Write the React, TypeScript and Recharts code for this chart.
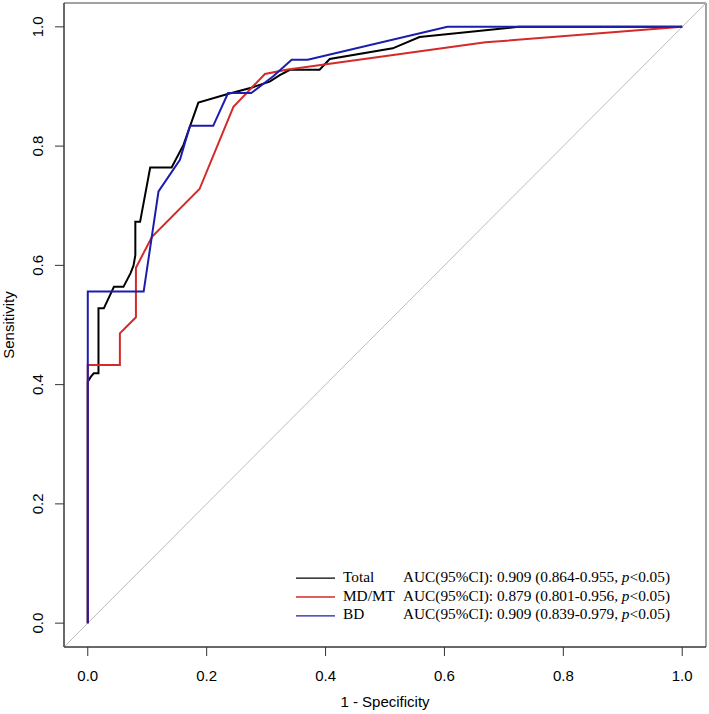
import { Line, LineChart, ReferenceArea, ReferenceLine, XAxis, YAxis } from "recharts";

// ROC points (x = 1 - specificity, y = sensitivity)
const totalFpr = [0, 0, 0.005, 0.01, 0.018, 0.018, 0.027, 0.044, 0.06, 0.072, 0.077, 0.08, 0.08, 0.088, 0.105, 0.141, 0.161, 0.186, 0.234, 0.275, 0.306, 0.323, 0.34, 0.39, 0.407, 0.513, 0.558, 0.725, 1];
const totalTpr = [0, 0.405, 0.413, 0.419, 0.419, 0.528, 0.528, 0.564, 0.564, 0.587, 0.6, 0.617, 0.673, 0.673, 0.764, 0.764, 0.802, 0.873, 0.887, 0.898, 0.908, 0.919, 0.928, 0.928, 0.946, 0.964, 0.983, 1, 1];

const mdmtFpr = [0, 0, 0.054, 0.054, 0.081, 0.081, 0.108, 0.188, 0.245, 0.298, 0.334, 0.669, 1];
const mdmtTpr = [0, 0.433, 0.433, 0.486, 0.513, 0.596, 0.648, 0.728, 0.866, 0.921, 0.928, 0.974, 1];

const bdFpr = [0, 0, 0.094, 0.119, 0.155, 0.172, 0.211, 0.236, 0.275, 0.312, 0.343, 0.37, 0.605, 1];
const bdTpr = [0, 0.556, 0.556, 0.724, 0.777, 0.834, 0.834, 0.889, 0.889, 0.917, 0.945, 0.945, 1, 1];

const axisTicks = [0, 0.2, 0.4, 0.6, 0.8, 1];

const seriesNames = ["Total", "MD/MT", "BD"];
const seriesColors = ["#000000", "#d42a2a", "#1c1cad"];
const aucValues = ["0.909", "0.879", "0.909"];
const aucRanges = ["0.864-0.955", "0.801-0.956", "0.839-0.979"];

const toPoints = (xs: number[], ys: number[]) => xs.map((x, i) => ({ x, y: ys[i] }));
const seriesData = [toPoints(totalFpr, totalTpr), toPoints(mdmtFpr, mdmtTpr), toPoints(bdFpr, bdTpr)];

const sans = "'Liberation Sans', Arial, sans-serif";
const serif = "'Liberation Serif', 'Times New Roman', serif";
const fmt = (v: number) => v.toFixed(1);

function YTick(props: any) {
  const { x, y, payload } = props;
  return (
    <text x={x} y={y} transform={`rotate(-90, ${x}, ${y})`} textAnchor="middle" fontFamily={sans} fontSize={15} fill="#000">
      {fmt(payload.value)}
    </text>
  );
}

export default function App() {
  return (
    <div style={{ position: "absolute", left: 0, top: 0, width: 709, height: 714, background: "#fff" }}>
      <LineChart width={709} height={714} margin={{ top: 3, right: 3, bottom: 0, left: 0 }}>
        <XAxis
          type="number"
          dataKey="x"
          domain={[-0.04, 1.04]}
          ticks={axisTicks}
          tickFormatter={fmt}
          allowDataOverflow
          height={67}
          tickSize={9}
          tickMargin={14}
          stroke="#333"
          tick={{ fill: "#000", fontFamily: sans, fontSize: 15 }}
        />
        <YAxis
          type="number"
          dataKey="y"
          domain={[-0.04, 1.04]}
          ticks={axisTicks}
          allowDataOverflow
          width={64}
          tickSize={9}
          tickMargin={12}
          stroke="#333"
          tick={<YTick />}
        />
        <ReferenceArea x1={-0.04} x2={1.04} y1={-0.04} y2={1.04} fill="none" stroke="#444" strokeWidth={1} />
        <ReferenceLine
          segment={[{ x: -0.04, y: -0.04 }, { x: 1.04, y: 1.04 }]}
          stroke="#bdbdbd"
          strokeWidth={1}
        />
        {seriesData.map((d, i) => (
          <Line
            key={seriesNames[i]}
            data={d}
            dataKey="y"
            type="linear"
            stroke={seriesColors[i]}
            strokeWidth={2}
            dot={false}
            activeDot={false}
            isAnimationActive={false}
          />
        ))}
      </LineChart>
      <svg width={709} height={714} style={{ position: "absolute", left: 0, top: 0, pointerEvents: "none" }}>
        <text x={385} y={707} textAnchor="middle" fontFamily={sans} fontSize={15} fill="#000">
          1 - Specificity
        </text>
        <text x={14} y={325} transform="rotate(-90, 14, 325)" textAnchor="middle" fontFamily={sans} fontSize={15} fill="#000">
          Sensitivity
        </text>
        {seriesNames.map((name, i) => {
          const base = 581.7 + i * 18.8;
          return (
            <g key={name}>
              <line x1={296} x2={335} y1={base - 3.5} y2={base - 3.5} stroke={seriesColors[i]} strokeWidth={1.3} />
              <text x={343} y={base} fontFamily={serif} fontSize={15.3} fill="#000">
                {name}
              </text>
              <text x={403} y={base} fontFamily={serif} fontSize={15.3} fill="#000">
                AUC(95%CI): {aucValues[i]} ({aucRanges[i]}, <tspan fontStyle="italic">p</tspan>&lt;0.05)
              </text>
            </g>
          );
        })}
      </svg>
    </div>
  );
}
